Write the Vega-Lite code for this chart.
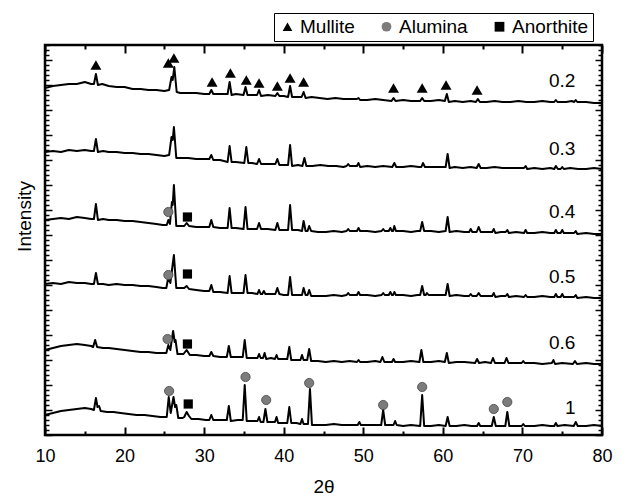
{
"$schema":"https://vega.github.io/schema/vega-lite/v6.json",
"width":557,"height":390,
"autosize":"none",
"padding":{"left":45,"top":45,"right":26,"bottom":62},
"background":"white",
"config":{"view":{"stroke":"black","strokeWidth":2.5},"font":"Liberation Sans",
"legend":{"orient":"none","legendX":229,"legendY":-32,"direction":"horizontal","strokeColor":"black","fillColor":"white","padding":4,"labelFont":"Liberation Sans","labelFontSize":19,"labelColor":"black","symbolSize":95,"symbolStrokeWidth":0,"columnPadding":22,"labelOffset":3,"title":null}},
"datasets":{
"lines":[
{"s":"0.2","x":10,"y":347},{"s":"0.2","x":11,"y":349},{"s":"0.2","x":12,"y":350},{"s":"0.2","x":13,"y":351},{"s":"0.2","x":14,"y":351},{"s":"0.2","x":15,"y":353},{"s":"0.2","x":15.8,"y":351},{"s":"0.2","x":16.15,"y":351},{"s":"0.2","x":16.4,"y":361},{"s":"0.2","x":16.65,"y":350},{"s":"0.2","x":17.2,"y":351},{"s":"0.2","x":18,"y":349},{"s":"0.2","x":19,"y":348},{"s":"0.2","x":20,"y":348},{"s":"0.2","x":21,"y":346},{"s":"0.2","x":22,"y":346},{"s":"0.2","x":23,"y":345},{"s":"0.2","x":24,"y":345},{"s":"0.2","x":25,"y":344},{"s":"0.2","x":25.6,"y":345},{"s":"0.2","x":25.9,"y":358},{"s":"0.2","x":26.05,"y":355},{"s":"0.2","x":26.25,"y":368},{"s":"0.2","x":26.55,"y":343},{"s":"0.2","x":27,"y":342},{"s":"0.2","x":28,"y":342},{"s":"0.2","x":29,"y":342},{"s":"0.2","x":30,"y":341},{"s":"0.2","x":30.65,"y":341},{"s":"0.2","x":30.9,"y":345},{"s":"0.2","x":31.15,"y":341},{"s":"0.2","x":32,"y":341},{"s":"0.2","x":32.95,"y":341},{"s":"0.2","x":33.2,"y":353},{"s":"0.2","x":33.45,"y":340},{"s":"0.2","x":34,"y":341},{"s":"0.2","x":34.95,"y":340},{"s":"0.2","x":35.2,"y":348},{"s":"0.2","x":35.45,"y":340},{"s":"0.2","x":36,"y":340},{"s":"0.2","x":36.65,"y":340},{"s":"0.2","x":36.9,"y":345},{"s":"0.2","x":37.15,"y":339},{"s":"0.2","x":38,"y":340},{"s":"0.2","x":38.95,"y":339},{"s":"0.2","x":39.2,"y":342},{"s":"0.2","x":39.45,"y":339},{"s":"0.2","x":40,"y":339},{"s":"0.2","x":40.55,"y":338},{"s":"0.2","x":40.8,"y":349},{"s":"0.2","x":41.05,"y":338},{"s":"0.2","x":41.8,"y":338},{"s":"0.2","x":42.25,"y":338},{"s":"0.2","x":42.5,"y":343},{"s":"0.2","x":42.75,"y":337},{"s":"0.2","x":43.5,"y":338},{"s":"0.2","x":44.5,"y":337},{"s":"0.2","x":45.5,"y":336},{"s":"0.2","x":46.5,"y":337},{"s":"0.2","x":47.5,"y":336},{"s":"0.2","x":48.5,"y":336},{"s":"0.2","x":49.2,"y":336},{"s":"0.2","x":49.4,"y":337},{"s":"0.2","x":49.6,"y":335},{"s":"0.2","x":50.5,"y":335},{"s":"0.2","x":51.5,"y":336},{"s":"0.2","x":52.5,"y":335},{"s":"0.2","x":53.55,"y":334},{"s":"0.2","x":53.8,"y":337},{"s":"0.2","x":54.05,"y":334},{"s":"0.2","x":55,"y":335},{"s":"0.2","x":56,"y":334},{"s":"0.2","x":57.15,"y":334},{"s":"0.2","x":57.4,"y":337},{"s":"0.2","x":57.65,"y":334},{"s":"0.2","x":58.5,"y":334},{"s":"0.2","x":59.5,"y":335},{"s":"0.2","x":60.25,"y":334},{"s":"0.2","x":60.5,"y":341},{"s":"0.2","x":60.75,"y":333},{"s":"0.2","x":61.5,"y":334},{"s":"0.2","x":62.5,"y":333},{"s":"0.2","x":63.5,"y":334},{"s":"0.2","x":64.15,"y":333},{"s":"0.2","x":64.4,"y":336},{"s":"0.2","x":64.65,"y":333},{"s":"0.2","x":65.5,"y":333},{"s":"0.2","x":66.5,"y":334},{"s":"0.2","x":67.5,"y":333},{"s":"0.2","x":68.5,"y":333},{"s":"0.2","x":69.5,"y":334},{"s":"0.2","x":70.5,"y":333},{"s":"0.2","x":71.5,"y":333},{"s":"0.2","x":72.5,"y":334},{"s":"0.2","x":73.5,"y":333},{"s":"0.2","x":74.0,"y":333},{"s":"0.2","x":74.2,"y":335},{"s":"0.2","x":74.4,"y":333},{"s":"0.2","x":75.5,"y":333},{"s":"0.2","x":76.2,"y":334},{"s":"0.2","x":76.5,"y":333},{"s":"0.2","x":76.7,"y":335},{"s":"0.2","x":76.9,"y":333},{"s":"0.2","x":78,"y":333},{"s":"0.2","x":79,"y":332},{"s":"0.2","x":80,"y":332},
{"s":"0.3","x":10,"y":283},{"s":"0.3","x":11,"y":284},{"s":"0.3","x":12,"y":283},{"s":"0.3","x":13,"y":285},{"s":"0.3","x":14,"y":284},{"s":"0.3","x":15,"y":285},{"s":"0.3","x":15.8,"y":284},{"s":"0.3","x":16.15,"y":284},{"s":"0.3","x":16.4,"y":296},{"s":"0.3","x":16.65,"y":283},{"s":"0.3","x":17.3,"y":284},{"s":"0.3","x":18,"y":283},{"s":"0.3","x":19,"y":283},{"s":"0.3","x":20,"y":282},{"s":"0.3","x":21,"y":282},{"s":"0.3","x":22,"y":281},{"s":"0.3","x":23,"y":281},{"s":"0.3","x":24,"y":280},{"s":"0.3","x":25,"y":279},{"s":"0.3","x":25.6,"y":280},{"s":"0.3","x":25.9,"y":298},{"s":"0.3","x":26.05,"y":295},{"s":"0.3","x":26.2,"y":308},{"s":"0.3","x":26.5,"y":277},{"s":"0.3","x":27,"y":277},{"s":"0.3","x":28,"y":277},{"s":"0.3","x":29,"y":276},{"s":"0.3","x":30,"y":276},{"s":"0.3","x":30.65,"y":276},{"s":"0.3","x":30.9,"y":280},{"s":"0.3","x":31.15,"y":275},{"s":"0.3","x":32,"y":275},{"s":"0.3","x":32.95,"y":273},{"s":"0.3","x":33.2,"y":289},{"s":"0.3","x":33.45,"y":273},{"s":"0.3","x":34,"y":273},{"s":"0.3","x":35.05,"y":272},{"s":"0.3","x":35.3,"y":288},{"s":"0.3","x":35.55,"y":272},{"s":"0.3","x":36,"y":272},{"s":"0.3","x":36.65,"y":271},{"s":"0.3","x":36.9,"y":276},{"s":"0.3","x":37.15,"y":271},{"s":"0.3","x":38,"y":271},{"s":"0.3","x":38.95,"y":271},{"s":"0.3","x":39.2,"y":276},{"s":"0.3","x":39.45,"y":270},{"s":"0.3","x":40,"y":270},{"s":"0.3","x":40.55,"y":270},{"s":"0.3","x":40.8,"y":290},{"s":"0.3","x":41.05,"y":269},{"s":"0.3","x":41.8,"y":270},{"s":"0.3","x":42.35,"y":269},{"s":"0.3","x":42.6,"y":277},{"s":"0.3","x":42.85,"y":269},{"s":"0.3","x":43.6,"y":269},{"s":"0.3","x":44.6,"y":270},{"s":"0.3","x":45.6,"y":269},{"s":"0.3","x":46.6,"y":269},{"s":"0.3","x":47.5,"y":268},{"s":"0.3","x":47.9,"y":269},{"s":"0.3","x":48.1,"y":271},{"s":"0.3","x":48.3,"y":269},{"s":"0.3","x":49.2,"y":269},{"s":"0.3","x":49.4,"y":272},{"s":"0.3","x":49.6,"y":268},{"s":"0.3","x":50.5,"y":269},{"s":"0.3","x":51.5,"y":268},{"s":"0.3","x":52.5,"y":269},{"s":"0.3","x":53.65,"y":268},{"s":"0.3","x":53.9,"y":272},{"s":"0.3","x":54.15,"y":268},{"s":"0.3","x":55,"y":268},{"s":"0.3","x":56,"y":269},{"s":"0.3","x":57,"y":268},{"s":"0.3","x":57.3,"y":268},{"s":"0.3","x":57.5,"y":272},{"s":"0.3","x":57.75,"y":268},{"s":"0.3","x":58.5,"y":268},{"s":"0.3","x":59.5,"y":268},{"s":"0.3","x":60.35,"y":268},{"s":"0.3","x":60.6,"y":281},{"s":"0.3","x":60.85,"y":267},{"s":"0.3","x":61.5,"y":268},{"s":"0.3","x":62.5,"y":267},{"s":"0.3","x":63.5,"y":268},{"s":"0.3","x":64.25,"y":267},{"s":"0.3","x":64.5,"y":271},{"s":"0.3","x":64.75,"y":267},{"s":"0.3","x":65.5,"y":267},{"s":"0.3","x":66.5,"y":268},{"s":"0.3","x":67.5,"y":267},{"s":"0.3","x":68.5,"y":267},{"s":"0.3","x":69.5,"y":267},{"s":"0.3","x":70.2,"y":267},{"s":"0.3","x":70.4,"y":269},{"s":"0.3","x":70.6,"y":266},{"s":"0.3","x":71.5,"y":267},{"s":"0.3","x":72.5,"y":266},{"s":"0.3","x":73.5,"y":267},{"s":"0.3","x":74.0,"y":266},{"s":"0.3","x":74.2,"y":269},{"s":"0.3","x":74.45,"y":266},{"s":"0.3","x":74.8,"y":266},{"s":"0.3","x":75.0,"y":268},{"s":"0.3","x":75.2,"y":266},{"s":"0.3","x":76,"y":267},{"s":"0.3","x":77,"y":266},{"s":"0.3","x":78,"y":266},{"s":"0.3","x":79,"y":267},{"s":"0.3","x":80,"y":266},
{"s":"0.4","x":10,"y":215},{"s":"0.4","x":11,"y":216},{"s":"0.4","x":12,"y":217},{"s":"0.4","x":13,"y":216},{"s":"0.4","x":14,"y":218},{"s":"0.4","x":15,"y":217},{"s":"0.4","x":15.8,"y":216},{"s":"0.4","x":16.15,"y":216},{"s":"0.4","x":16.4,"y":231},{"s":"0.4","x":16.65,"y":215},{"s":"0.4","x":17.3,"y":216},{"s":"0.4","x":18,"y":215},{"s":"0.4","x":19,"y":215},{"s":"0.4","x":20,"y":214},{"s":"0.4","x":21,"y":214},{"s":"0.4","x":22,"y":213},{"s":"0.4","x":23,"y":212},{"s":"0.4","x":24,"y":211},{"s":"0.4","x":24.8,"y":210},{"s":"0.4","x":25.3,"y":210},{"s":"0.4","x":25.5,"y":215},{"s":"0.4","x":25.7,"y":211},{"s":"0.4","x":25.95,"y":233},{"s":"0.4","x":26.05,"y":230},{"s":"0.4","x":26.2,"y":250},{"s":"0.4","x":26.5,"y":209},{"s":"0.4","x":27.2,"y":209},{"s":"0.4","x":27.5,"y":209},{"s":"0.4","x":27.8,"y":212},{"s":"0.4","x":28.1,"y":209},{"s":"0.4","x":29,"y":208},{"s":"0.4","x":30,"y":208},{"s":"0.4","x":30.65,"y":208},{"s":"0.4","x":30.9,"y":215},{"s":"0.4","x":31.15,"y":208},{"s":"0.4","x":32,"y":207},{"s":"0.4","x":32.95,"y":207},{"s":"0.4","x":33.2,"y":227},{"s":"0.4","x":33.45,"y":207},{"s":"0.4","x":34,"y":207},{"s":"0.4","x":34.95,"y":206},{"s":"0.4","x":35.2,"y":228},{"s":"0.4","x":35.45,"y":206},{"s":"0.4","x":36,"y":206},{"s":"0.4","x":36.65,"y":206},{"s":"0.4","x":36.9,"y":212},{"s":"0.4","x":37.15,"y":206},{"s":"0.4","x":38,"y":206},{"s":"0.4","x":38.95,"y":205},{"s":"0.4","x":39.2,"y":212},{"s":"0.4","x":39.45,"y":205},{"s":"0.4","x":40,"y":205},{"s":"0.4","x":40.55,"y":205},{"s":"0.4","x":40.8,"y":230},{"s":"0.4","x":41.05,"y":205},{"s":"0.4","x":41.8,"y":205},{"s":"0.4","x":42.3,"y":204},{"s":"0.4","x":42.5,"y":214},{"s":"0.4","x":42.75,"y":204},{"s":"0.4","x":43.0,"y":204},{"s":"0.4","x":43.2,"y":209},{"s":"0.4","x":43.45,"y":204},{"s":"0.4","x":44.3,"y":203},{"s":"0.4","x":45.3,"y":203},{"s":"0.4","x":46.3,"y":204},{"s":"0.4","x":47.3,"y":203},{"s":"0.4","x":47.9,"y":204},{"s":"0.4","x":48.1,"y":206},{"s":"0.4","x":48.3,"y":204},{"s":"0.4","x":49.2,"y":204},{"s":"0.4","x":49.4,"y":207},{"s":"0.4","x":49.6,"y":204},{"s":"0.4","x":50.5,"y":204},{"s":"0.4","x":51.5,"y":203},{"s":"0.4","x":52.3,"y":204},{"s":"0.4","x":52.5,"y":206},{"s":"0.4","x":52.7,"y":204},{"s":"0.4","x":53.2,"y":204},{"s":"0.4","x":53.4,"y":207},{"s":"0.4","x":53.6,"y":204},{"s":"0.4","x":53.75,"y":204},{"s":"0.4","x":53.9,"y":209},{"s":"0.4","x":54.1,"y":204},{"s":"0.4","x":55,"y":204},{"s":"0.4","x":56,"y":203},{"s":"0.4","x":56.8,"y":204},{"s":"0.4","x":57.15,"y":204},{"s":"0.4","x":57.4,"y":213},{"s":"0.4","x":57.65,"y":204},{"s":"0.4","x":58.5,"y":204},{"s":"0.4","x":59.5,"y":203},{"s":"0.4","x":60.35,"y":204},{"s":"0.4","x":60.6,"y":218},{"s":"0.4","x":60.85,"y":203},{"s":"0.4","x":61.7,"y":204},{"s":"0.4","x":62.7,"y":203},{"s":"0.4","x":63.3,"y":203},{"s":"0.4","x":63.5,"y":206},{"s":"0.4","x":63.7,"y":203},{"s":"0.4","x":64.25,"y":203},{"s":"0.4","x":64.5,"y":208},{"s":"0.4","x":64.75,"y":203},{"s":"0.4","x":65.5,"y":203},{"s":"0.4","x":66.2,"y":203},{"s":"0.4","x":66.4,"y":206},{"s":"0.4","x":66.6,"y":202},{"s":"0.4","x":67.3,"y":203},{"s":"0.4","x":67.9,"y":203},{"s":"0.4","x":68.1,"y":205},{"s":"0.4","x":68.3,"y":202},{"s":"0.4","x":69.2,"y":203},{"s":"0.4","x":70.2,"y":202},{"s":"0.4","x":70.4,"y":205},{"s":"0.4","x":70.6,"y":202},{"s":"0.4","x":71.5,"y":202},{"s":"0.4","x":72.5,"y":203},{"s":"0.4","x":73.5,"y":202},{"s":"0.4","x":74.0,"y":202},{"s":"0.4","x":74.2,"y":205},{"s":"0.4","x":74.4,"y":202},{"s":"0.4","x":74.8,"y":202},{"s":"0.4","x":75.0,"y":205},{"s":"0.4","x":75.2,"y":202},{"s":"0.4","x":76,"y":202},{"s":"0.4","x":76.5,"y":202},{"s":"0.4","x":76.7,"y":204},{"s":"0.4","x":76.9,"y":201},{"s":"0.4","x":78,"y":202},{"s":"0.4","x":79,"y":201},{"s":"0.4","x":80,"y":201},
{"s":"0.5","x":10,"y":151},{"s":"0.5","x":11,"y":152},{"s":"0.5","x":12,"y":151},{"s":"0.5","x":13,"y":153},{"s":"0.5","x":14,"y":152},{"s":"0.5","x":15,"y":152},{"s":"0.5","x":15.8,"y":151},{"s":"0.5","x":16.15,"y":151},{"s":"0.5","x":16.4,"y":162},{"s":"0.5","x":16.65,"y":151},{"s":"0.5","x":17.3,"y":151},{"s":"0.5","x":18,"y":150},{"s":"0.5","x":19,"y":151},{"s":"0.5","x":20,"y":150},{"s":"0.5","x":21,"y":150},{"s":"0.5","x":22,"y":149},{"s":"0.5","x":23,"y":149},{"s":"0.5","x":24,"y":148},{"s":"0.5","x":24.8,"y":147},{"s":"0.5","x":25.25,"y":147},{"s":"0.5","x":25.5,"y":158},{"s":"0.5","x":25.75,"y":152},{"s":"0.5","x":26.2,"y":180},{"s":"0.5","x":26.5,"y":147},{"s":"0.5","x":27.2,"y":147},{"s":"0.5","x":27.5,"y":147},{"s":"0.5","x":27.8,"y":149},{"s":"0.5","x":28.1,"y":146},{"s":"0.5","x":29,"y":145},{"s":"0.5","x":30,"y":144},{"s":"0.5","x":30.65,"y":144},{"s":"0.5","x":30.9,"y":150},{"s":"0.5","x":31.15,"y":143},{"s":"0.5","x":32,"y":143},{"s":"0.5","x":32.95,"y":142},{"s":"0.5","x":33.2,"y":159},{"s":"0.5","x":33.45,"y":142},{"s":"0.5","x":34,"y":142},{"s":"0.5","x":34.95,"y":142},{"s":"0.5","x":35.2,"y":160},{"s":"0.5","x":35.45,"y":142},{"s":"0.5","x":36,"y":142},{"s":"0.5","x":36.7,"y":141},{"s":"0.5","x":36.9,"y":145},{"s":"0.5","x":37.1,"y":141},{"s":"0.5","x":37.3,"y":141},{"s":"0.5","x":37.5,"y":144},{"s":"0.5","x":37.7,"y":141},{"s":"0.5","x":38.4,"y":141},{"s":"0.5","x":38.95,"y":141},{"s":"0.5","x":39.2,"y":147},{"s":"0.5","x":39.45,"y":141},{"s":"0.5","x":40,"y":140},{"s":"0.5","x":40.55,"y":140},{"s":"0.5","x":40.8,"y":158},{"s":"0.5","x":41.05,"y":140},{"s":"0.5","x":41.8,"y":140},{"s":"0.5","x":42.3,"y":140},{"s":"0.5","x":42.5,"y":147},{"s":"0.5","x":42.75,"y":140},{"s":"0.5","x":43.0,"y":140},{"s":"0.5","x":43.2,"y":145},{"s":"0.5","x":43.45,"y":139},{"s":"0.5","x":44.3,"y":139},{"s":"0.5","x":45.3,"y":139},{"s":"0.5","x":46.3,"y":140},{"s":"0.5","x":47.3,"y":139},{"s":"0.5","x":47.9,"y":140},{"s":"0.5","x":48.1,"y":142},{"s":"0.5","x":48.3,"y":140},{"s":"0.5","x":49.2,"y":140},{"s":"0.5","x":49.4,"y":143},{"s":"0.5","x":49.6,"y":140},{"s":"0.5","x":50.5,"y":140},{"s":"0.5","x":51.5,"y":139},{"s":"0.5","x":52.3,"y":140},{"s":"0.5","x":52.5,"y":142},{"s":"0.5","x":52.7,"y":140},{"s":"0.5","x":53.2,"y":140},{"s":"0.5","x":53.4,"y":143},{"s":"0.5","x":53.6,"y":140},{"s":"0.5","x":53.75,"y":140},{"s":"0.5","x":53.9,"y":143},{"s":"0.5","x":54.1,"y":140},{"s":"0.5","x":55,"y":140},{"s":"0.5","x":56,"y":139},{"s":"0.5","x":56.8,"y":140},{"s":"0.5","x":57.15,"y":140},{"s":"0.5","x":57.4,"y":149},{"s":"0.5","x":57.65,"y":140},{"s":"0.5","x":57.85,"y":140},{"s":"0.5","x":58.0,"y":142},{"s":"0.5","x":58.2,"y":140},{"s":"0.5","x":59.2,"y":140},{"s":"0.5","x":60.35,"y":140},{"s":"0.5","x":60.6,"y":151},{"s":"0.5","x":60.85,"y":139},{"s":"0.5","x":61.7,"y":140},{"s":"0.5","x":62.7,"y":139},{"s":"0.5","x":63.3,"y":139},{"s":"0.5","x":63.5,"y":141},{"s":"0.5","x":63.7,"y":139},{"s":"0.5","x":64.25,"y":139},{"s":"0.5","x":64.5,"y":142},{"s":"0.5","x":64.75,"y":139},{"s":"0.5","x":65.5,"y":139},{"s":"0.5","x":66.2,"y":139},{"s":"0.5","x":66.4,"y":142},{"s":"0.5","x":66.6,"y":138},{"s":"0.5","x":67.3,"y":139},{"s":"0.5","x":67.9,"y":139},{"s":"0.5","x":68.1,"y":141},{"s":"0.5","x":68.3,"y":138},{"s":"0.5","x":69.2,"y":139},{"s":"0.5","x":70.2,"y":138},{"s":"0.5","x":70.4,"y":140},{"s":"0.5","x":70.6,"y":138},{"s":"0.5","x":71.5,"y":138},{"s":"0.5","x":72.5,"y":139},{"s":"0.5","x":73.5,"y":138},{"s":"0.5","x":74.0,"y":138},{"s":"0.5","x":74.2,"y":141},{"s":"0.5","x":74.4,"y":138},{"s":"0.5","x":74.8,"y":138},{"s":"0.5","x":75.0,"y":141},{"s":"0.5","x":75.2,"y":138},{"s":"0.5","x":76,"y":138},{"s":"0.5","x":76.5,"y":138},{"s":"0.5","x":76.7,"y":140},{"s":"0.5","x":76.9,"y":137},{"s":"0.5","x":78,"y":138},{"s":"0.5","x":79,"y":137},{"s":"0.5","x":80,"y":137},
{"s":"0.6","x":10,"y":85},{"s":"0.6","x":11,"y":87},{"s":"0.6","x":12,"y":89},{"s":"0.6","x":13,"y":90},{"s":"0.6","x":14,"y":91},{"s":"0.6","x":15,"y":90},{"s":"0.6","x":15.8,"y":89},{"s":"0.6","x":16.05,"y":88},{"s":"0.6","x":16.3,"y":95},{"s":"0.6","x":16.55,"y":88},{"s":"0.6","x":17.3,"y":87},{"s":"0.6","x":18,"y":87},{"s":"0.6","x":19,"y":86},{"s":"0.6","x":20,"y":85},{"s":"0.6","x":21,"y":84},{"s":"0.6","x":22,"y":83},{"s":"0.6","x":23,"y":83},{"s":"0.6","x":24,"y":82},{"s":"0.6","x":24.8,"y":82},{"s":"0.6","x":25.25,"y":82},{"s":"0.6","x":25.5,"y":90},{"s":"0.6","x":25.75,"y":85},{"s":"0.6","x":26.1,"y":104},{"s":"0.6","x":26.3,"y":93},{"s":"0.6","x":26.4,"y":95},{"s":"0.6","x":26.65,"y":81},{"s":"0.6","x":27.2,"y":81},{"s":"0.6","x":27.4,"y":81},{"s":"0.6","x":27.8,"y":85},{"s":"0.6","x":28.2,"y":80},{"s":"0.6","x":29,"y":80},{"s":"0.6","x":30,"y":79},{"s":"0.6","x":30.65,"y":79},{"s":"0.6","x":30.9,"y":83},{"s":"0.6","x":31.15,"y":79},{"s":"0.6","x":32,"y":78},{"s":"0.6","x":32.85,"y":78},{"s":"0.6","x":33.1,"y":89},{"s":"0.6","x":33.35,"y":78},{"s":"0.6","x":34,"y":78},{"s":"0.6","x":34.85,"y":78},{"s":"0.6","x":35.1,"y":95},{"s":"0.6","x":35.35,"y":77},{"s":"0.6","x":36,"y":77},{"s":"0.6","x":36.7,"y":77},{"s":"0.6","x":36.9,"y":81},{"s":"0.6","x":37.1,"y":77},{"s":"0.6","x":37.4,"y":77},{"s":"0.6","x":37.6,"y":82},{"s":"0.6","x":37.8,"y":76},{"s":"0.6","x":38.4,"y":77},{"s":"0.6","x":38.9,"y":76},{"s":"0.6","x":39.1,"y":80},{"s":"0.6","x":39.3,"y":76},{"s":"0.6","x":40,"y":76},{"s":"0.6","x":40.45,"y":76},{"s":"0.6","x":40.7,"y":88},{"s":"0.6","x":40.95,"y":75},{"s":"0.6","x":41.6,"y":75},{"s":"0.6","x":42.1,"y":75},{"s":"0.6","x":42.3,"y":80},{"s":"0.6","x":42.5,"y":75},{"s":"0.6","x":42.95,"y":75},{"s":"0.6","x":43.2,"y":86},{"s":"0.6","x":43.45,"y":74},{"s":"0.6","x":44.3,"y":74},{"s":"0.6","x":45.3,"y":73},{"s":"0.6","x":46.3,"y":74},{"s":"0.6","x":47.3,"y":73},{"s":"0.6","x":48.3,"y":74},{"s":"0.6","x":49.2,"y":73},{"s":"0.6","x":49.4,"y":75},{"s":"0.6","x":49.6,"y":73},{"s":"0.6","x":50.5,"y":73},{"s":"0.6","x":51.5,"y":74},{"s":"0.6","x":52.15,"y":73},{"s":"0.6","x":52.4,"y":78},{"s":"0.6","x":52.65,"y":73},{"s":"0.6","x":53.6,"y":73},{"s":"0.6","x":53.8,"y":76},{"s":"0.6","x":54.0,"y":73},{"s":"0.6","x":55,"y":73},{"s":"0.6","x":56,"y":74},{"s":"0.6","x":57.05,"y":73},{"s":"0.6","x":57.3,"y":85},{"s":"0.6","x":57.55,"y":73},{"s":"0.6","x":58.5,"y":73},{"s":"0.6","x":59.5,"y":74},{"s":"0.6","x":60.25,"y":73},{"s":"0.6","x":60.5,"y":82},{"s":"0.6","x":60.75,"y":72},{"s":"0.6","x":61.7,"y":73},{"s":"0.6","x":62.7,"y":73},{"s":"0.6","x":64.05,"y":72},{"s":"0.6","x":64.3,"y":76},{"s":"0.6","x":64.55,"y":72},{"s":"0.6","x":65.3,"y":73},{"s":"0.6","x":66.05,"y":72},{"s":"0.6","x":66.3,"y":77},{"s":"0.6","x":66.55,"y":72},{"s":"0.6","x":67.3,"y":72},{"s":"0.6","x":67.75,"y":72},{"s":"0.6","x":68.0,"y":77},{"s":"0.6","x":68.25,"y":72},{"s":"0.6","x":69.2,"y":72},{"s":"0.6","x":69.9,"y":72},{"s":"0.6","x":70.1,"y":74},{"s":"0.6","x":70.3,"y":72},{"s":"0.6","x":71.5,"y":72},{"s":"0.6","x":72.5,"y":71},{"s":"0.6","x":73.7,"y":72},{"s":"0.6","x":73.9,"y":75},{"s":"0.6","x":74.1,"y":71},{"s":"0.6","x":75,"y":72},{"s":"0.6","x":76.35,"y":71},{"s":"0.6","x":76.6,"y":74},{"s":"0.6","x":76.85,"y":71},{"s":"0.6","x":78,"y":72},{"s":"0.6","x":79,"y":71},{"s":"0.6","x":80,"y":71},
{"s":"1","x":10,"y":20},{"s":"1","x":11,"y":22},{"s":"1","x":12,"y":24},{"s":"1","x":13,"y":25},{"s":"1","x":14,"y":26},{"s":"1","x":15,"y":27},{"s":"1","x":15.8,"y":26},{"s":"1","x":16.15,"y":25},{"s":"1","x":16.4,"y":37},{"s":"1","x":16.6,"y":28},{"s":"1","x":16.8,"y":29},{"s":"1","x":17.0,"y":24},{"s":"1","x":17.8,"y":23},{"s":"1","x":18.6,"y":23},{"s":"1","x":19.5,"y":22},{"s":"1","x":20.5,"y":21},{"s":"1","x":21.5,"y":20},{"s":"1","x":22.5,"y":20},{"s":"1","x":23.5,"y":19},{"s":"1","x":24.5,"y":18},{"s":"1","x":25.3,"y":18},{"s":"1","x":25.55,"y":38},{"s":"1","x":25.8,"y":22},{"s":"1","x":26.15,"y":38},{"s":"1","x":26.35,"y":28},{"s":"1","x":26.5,"y":30},{"s":"1","x":26.75,"y":17},{"s":"1","x":27.3,"y":17},{"s":"1","x":27.5,"y":18},{"s":"1","x":27.8,"y":23},{"s":"1","x":28.1,"y":19},{"s":"1","x":28.4,"y":16},{"s":"1","x":29.3,"y":16},{"s":"1","x":30.2,"y":15},{"s":"1","x":30.65,"y":15},{"s":"1","x":30.9,"y":20},{"s":"1","x":31.15,"y":15},{"s":"1","x":32,"y":15},{"s":"1","x":32.85,"y":15},{"s":"1","x":33.1,"y":29},{"s":"1","x":33.35,"y":14},{"s":"1","x":34.2,"y":15},{"s":"1","x":34.85,"y":15},{"s":"1","x":35.1,"y":50},{"s":"1","x":35.35,"y":14},{"s":"1","x":36.2,"y":14},{"s":"1","x":36.7,"y":14},{"s":"1","x":36.9,"y":18},{"s":"1","x":37.1,"y":13},{"s":"1","x":37.45,"y":13},{"s":"1","x":37.7,"y":26},{"s":"1","x":37.95,"y":13},{"s":"1","x":38.5,"y":13},{"s":"1","x":38.9,"y":13},{"s":"1","x":39.1,"y":18},{"s":"1","x":39.3,"y":12},{"s":"1","x":40,"y":12},{"s":"1","x":40.45,"y":12},{"s":"1","x":40.7,"y":28},{"s":"1","x":40.95,"y":12},{"s":"1","x":41.6,"y":12},{"s":"1","x":42.1,"y":11},{"s":"1","x":42.3,"y":16},{"s":"1","x":42.5,"y":11},{"s":"1","x":43.05,"y":11},{"s":"1","x":43.3,"y":46},{"s":"1","x":43.55,"y":10},{"s":"1","x":44.3,"y":10},{"s":"1","x":45.3,"y":10},{"s":"1","x":46.3,"y":11},{"s":"1","x":47.3,"y":10},{"s":"1","x":48.3,"y":10},{"s":"1","x":49.3,"y":10},{"s":"1","x":49.5,"y":13},{"s":"1","x":49.7,"y":10},{"s":"1","x":50.5,"y":10},{"s":"1","x":51.5,"y":10},{"s":"1","x":52.25,"y":10},{"s":"1","x":52.5,"y":25},{"s":"1","x":52.75,"y":10},{"s":"1","x":53.8,"y":10},{"s":"1","x":54.0,"y":14},{"s":"1","x":54.2,"y":10},{"s":"1","x":55,"y":9},{"s":"1","x":56,"y":10},{"s":"1","x":57.15,"y":9},{"s":"1","x":57.4,"y":40},{"s":"1","x":57.65,"y":9},{"s":"1","x":58.5,"y":9},{"s":"1","x":59.5,"y":10},{"s":"1","x":60.35,"y":9},{"s":"1","x":60.6,"y":18},{"s":"1","x":60.85,"y":9},{"s":"1","x":61.7,"y":9},{"s":"1","x":62.7,"y":10},{"s":"1","x":63.6,"y":9},{"s":"1","x":64.3,"y":9},{"s":"1","x":64.5,"y":12},{"s":"1","x":64.7,"y":9},{"s":"1","x":65.5,"y":9},{"s":"1","x":66.15,"y":9},{"s":"1","x":66.4,"y":18},{"s":"1","x":66.65,"y":9},{"s":"1","x":67.3,"y":9},{"s":"1","x":67.85,"y":9},{"s":"1","x":68.1,"y":23},{"s":"1","x":68.35,"y":9},{"s":"1","x":69.2,"y":9},{"s":"1","x":69.9,"y":9},{"s":"1","x":70.1,"y":11},{"s":"1","x":70.3,"y":9},{"s":"1","x":71.5,"y":9},{"s":"1","x":72.5,"y":10},{"s":"1","x":73.5,"y":9},{"s":"1","x":74.0,"y":9},{"s":"1","x":74.2,"y":12},{"s":"1","x":74.4,"y":9},{"s":"1","x":75.3,"y":10},{"s":"1","x":76.45,"y":9},{"s":"1","x":76.7,"y":13},{"s":"1","x":76.95,"y":9},{"s":"1","x":78,"y":9},{"s":"1","x":79,"y":10},{"s":"1","x":80,"y":9}
],
"marks":[
{"phase":"Mullite","x":16.4,"y":370},{"phase":"Mullite","x":25.5,"y":372},{"phase":"Mullite","x":26.2,"y":377},{"phase":"Mullite","x":31.0,"y":353},{"phase":"Mullite","x":33.3,"y":362},{"phase":"Mullite","x":35.3,"y":355},{"phase":"Mullite","x":36.9,"y":352},{"phase":"Mullite","x":39.2,"y":349},{"phase":"Mullite","x":40.8,"y":357},{"phase":"Mullite","x":42.5,"y":353},{"phase":"Mullite","x":53.8,"y":347},{"phase":"Mullite","x":57.4,"y":347},{"phase":"Mullite","x":60.4,"y":350},{"phase":"Mullite","x":64.3,"y":345},
{"phase":"Alumina","x":25.5,"y":223},{"phase":"Alumina","x":25.5,"y":160},{"phase":"Alumina","x":25.4,"y":96},{"phase":"Alumina","x":25.6,"y":44},{"phase":"Alumina","x":35.2,"y":58},{"phase":"Alumina","x":37.8,"y":35},{"phase":"Alumina","x":43.2,"y":52},{"phase":"Alumina","x":52.5,"y":30},{"phase":"Alumina","x":57.4,"y":48},{"phase":"Alumina","x":66.4,"y":26},{"phase":"Alumina","x":68.1,"y":33},
{"phase":"Anorthite","x":27.9,"y":218},{"phase":"Anorthite","x":27.9,"y":161},{"phase":"Anorthite","x":27.9,"y":91},{"phase":"Anorthite","x":28.0,"y":31}
],
"labels":[
{"label":"0.2","x":75.0,"y":354},{"label":"0.3","x":75.0,"y":286},{"label":"0.4","x":75.0,"y":223},{"label":"0.5","x":75.0,"y":158},{"label":"0.6","x":75.0,"y":92},{"label":"1","x":76.0,"y":27}
]},
"resolve":{"axis":{"x":"independent","y":"independent"}},
"layer":[
{"data":{"name":"lines"},
"mark":{"type":"line","color":"black","strokeWidth":2,"strokeJoin":"round"},
"encoding":{
"x":{"field":"x","type":"quantitative","scale":{"domain":[10,80],"nice":false,"zero":false},
"axis":{"orient":"bottom","values":[10,15,20,25,30,35,40,45,50,55,60,65,70,75,80],"labelExpr":"datum.value % 10 === 0 ? datum.label : ''","tickSize":{"condition":{"test":"datum.value % 10 === 0","value":-8},"value":-4},"tickWidth":2,"tickColor":"black","domain":false,"grid":false,"labelFont":"Liberation Sans","labelFontSize":18,"labelColor":"black","labelPadding":20,"labelFlush":false,"labelOverlap":false,"labelBound":false,"title":"2θ","titleFont":"Liberation Sans","titleFontSize":19,"titleFontWeight":"normal","titleColor":"black","titleBaseline":"alphabetic","titleY":57}},
"y":{"field":"y","type":"quantitative","scale":{"domain":[0,390],"nice":false,"zero":false},
"axis":{"orient":"left","tickCount":78,"tickSize":{"condition":{"test":"datum.value % 25 === 0","value":-7},"value":-4},"tickWidth":1.5,"tickColor":"black","domain":false,"grid":false,"labels":false,"title":"Intensity","titleFont":"Liberation Sans","titleFontSize":19,"titleFontWeight":"normal","titleColor":"black","titleX":-11,"titleY":171}},
"detail":{"field":"s","type":"nominal"}}},
{"data":{"name":"labels"},
"mark":{"type":"text","font":"Liberation Sans","fontSize":19,"color":"black","align":"center","baseline":"middle"},
"encoding":{
"x":{"field":"x","type":"quantitative","scale":{"domain":[10,80],"nice":false,"zero":false},
"axis":{"orient":"top","values":[10,15,20,25,30,35,40,45,50,55,60,65,70,75,80],"labels":false,"tickSize":{"condition":{"test":"datum.value % 10 === 0","value":-8},"value":-4},"tickWidth":2,"tickColor":"black","domain":false,"grid":false,"title":null}},
"y":{"field":"y","type":"quantitative","scale":{"domain":[0,390],"nice":false,"zero":false},
"axis":{"orient":"right","tickCount":78,"tickSize":{"condition":{"test":"datum.value % 25 === 0","value":-7},"value":-4},"tickWidth":1.5,"tickColor":"black","domain":false,"grid":false,"labels":false,"title":null}},
"text":{"field":"label","type":"nominal"}}},
{"data":{"name":"marks"},
"transform":[{"filter":"datum.phase === 'Mullite'"}],
"mark":{"type":"point","filled":true,"size":120,"opacity":1},
"encoding":{
"x":{"field":"x","type":"quantitative","scale":{"domain":[10,80],"nice":false,"zero":false},"axis":null},
"y":{"field":"y","type":"quantitative","scale":{"domain":[0,390],"nice":false,"zero":false},"axis":null},
"shape":{"field":"phase","type":"nominal","scale":{"domain":["Mullite","Alumina","Anorthite"],"range":["triangle-up","circle","square"]},"title":null},
"fill":{"field":"phase","type":"nominal","scale":{"domain":["Mullite","Alumina","Anorthite"],"range":["black","#7c7c7c","black"]},"title":null}}},
{"data":{"name":"marks"},
"transform":[{"filter":"datum.phase === 'Alumina'"}],
"mark":{"type":"point","filled":true,"size":85,"opacity":1,"stroke":"#444","strokeWidth":0.8},
"encoding":{
"x":{"field":"x","type":"quantitative","scale":{"domain":[10,80],"nice":false,"zero":false},"axis":null},
"y":{"field":"y","type":"quantitative","scale":{"domain":[0,390],"nice":false,"zero":false},"axis":null},
"shape":{"field":"phase","type":"nominal","scale":{"domain":["Mullite","Alumina","Anorthite"],"range":["triangle-up","circle","square"]},"title":null},
"fill":{"field":"phase","type":"nominal","scale":{"domain":["Mullite","Alumina","Anorthite"],"range":["black","#7c7c7c","black"]},"title":null}}},
{"data":{"name":"marks"},
"transform":[{"filter":"datum.phase === 'Anorthite'"}],
"mark":{"type":"point","filled":true,"size":85,"opacity":1},
"encoding":{
"x":{"field":"x","type":"quantitative","scale":{"domain":[10,80],"nice":false,"zero":false},"axis":null},
"y":{"field":"y","type":"quantitative","scale":{"domain":[0,390],"nice":false,"zero":false},"axis":null},
"shape":{"field":"phase","type":"nominal","scale":{"domain":["Mullite","Alumina","Anorthite"],"range":["triangle-up","circle","square"]},"title":null},
"fill":{"field":"phase","type":"nominal","scale":{"domain":["Mullite","Alumina","Anorthite"],"range":["black","#7c7c7c","black"]},"title":null}}}
]
}
